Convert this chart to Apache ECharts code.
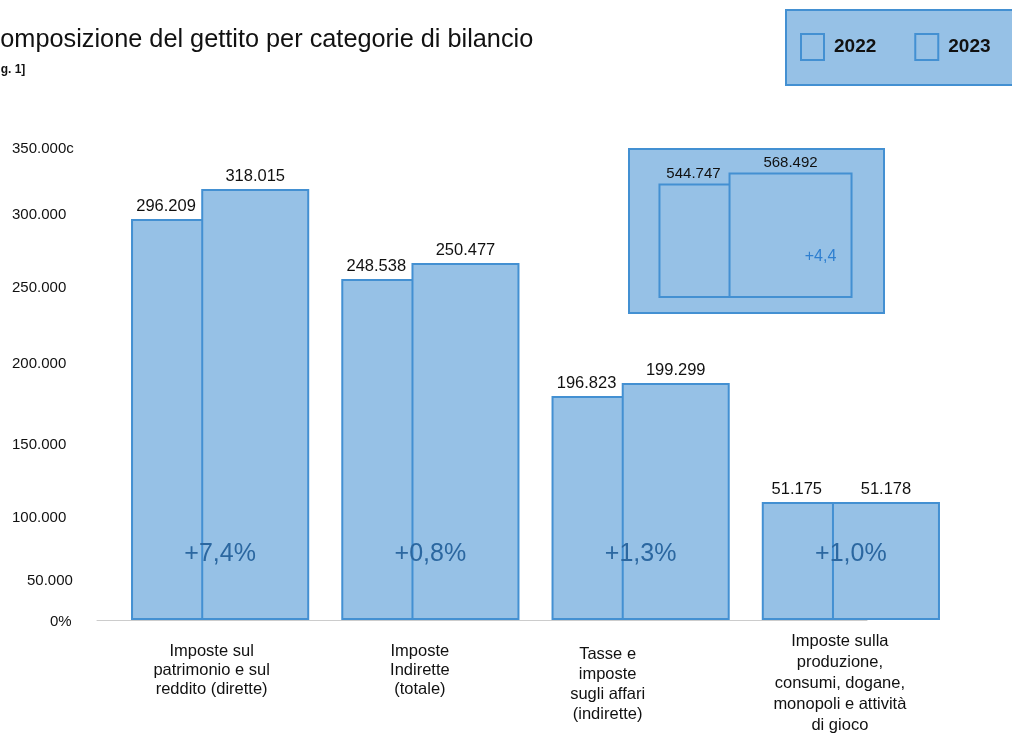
<!DOCTYPE html>
<html><head><meta charset="utf-8">
<script src="https://cdn.jsdelivr.net/npm/echarts@6/dist/echarts.min.js"></script>
<style>html,body{margin:0;padding:0;background:#fff}#c{width:1012px;height:733px}</style>
</head><body><div id="c"></div>
<script>
// ---- data ----
const categories = [
  'Imposte sul\npatrimonio e sul\nreddito (dirette)',
  'Imposte\nIndirette\n(totale)',
  'Tasse e\nimposte\nsugli affari\n(indirette)',
  'Imposte sulla\nproduzione,\nconsumi, dogane,\nmonopoli e attività\ndi gioco'
];
const values2022 = [296209, 248538, 196823, 51175];   // printed values
const values2023 = [318015, 250477, 199299, 51178];
const heights2022 = [296700, 252300, 165800, 87300];  // bar heights as drawn on the picture's scale
const heights2023 = [318900, 264200, 175400, 87300];
const changes = ['+7,4%', '+0,8%', '+1,3%', '+1,0%'];
const insetCategory = ['Totale'];
const insetValues2022 = [544747];
const insetValues2023 = [568492];
const insetChange = '+4,4';
const tickLabels = ['0%', '50.000', '100.000', '150.000', '200.000', '250.000', '300.000', '350.000c'];
const tickValues = [0, 30000, 77000, 131000, 191000, 247000, 301000, 350000];

// ---- style ----
const FONT = "'Liberation Sans', Helvetica, Arial, sans-serif";
const FILL = '#96c1e6';
const EDGE = '#4390d2';
const fmt = v => String(v).replace(/\B(?=(\d{3})+(?!\d))/g, '.');
const tickPad = {'0%': 38, '50.000': 15};
const catStyle = [
  {padding: [11, 17, 0, 0], lineHeight: 19},
  {padding: [11, 21, 0, 0], lineHeight: 19},
  {padding: [13, 66, 0, 0], lineHeight: 20},
  {padding: [0, 22, 0, 0], lineHeight: 21}
];

const chart = echarts.init(document.getElementById('c'));
chart.setOption({
  animation: false,
  textStyle: {fontFamily: FONT},
  title: [
    {text: 'Composizione del gettito per categorie di bilancio', left: -18, top: 28, padding: 0,
     textStyle: {fontSize: 25.3, fontWeight: 'normal', color: '#111', fontFamily: FONT}},
    {text: '[Fig. 1]', left: -14, top: 64, padding: 0,
     textStyle: {fontSize: 12, fontWeight: 'bold', color: '#111', fontFamily: FONT}}
  ],
  legend: {
    data: ['2022', '2023'],
    orient: 'horizontal',
    left: 786, top: 10, width: 400,
    padding: [23, 60, 24, 14],
    backgroundColor: FILL, borderColor: EDGE, borderWidth: 2,
    itemWidth: 23, itemHeight: 26, itemGap: 38,
    icon: 'rect',
    textStyle: {fontSize: 19, fontWeight: 'bold', color: '#111', fontFamily: FONT, padding: [0, 0, 0, 5]}
  },
  graphic: [{
    type: 'rect', left: 628, top: 148, z: 0,
    shape: {width: 255, height: 164},
    style: {fill: FILL, stroke: EDGE, lineWidth: 2}
  }],
  grid: [
    {left: 115, right: 56, top: 147, bottom: 113, outerBoundsMode: 'none', containLabel: false},
    {left: 640, width: 231, top: 150, height: 147, outerBoundsMode: 'none', containLabel: false},
    {left: 97, right: 145, top: 147, bottom: 113, outerBoundsMode: 'none', containLabel: false}
  ],
  xAxis: [
    {type: 'category', gridIndex: 0,
     data: categories.map((c, i) => ({value: c, textStyle: catStyle[i]})),
     axisLine: {show: false},
     axisTick: {show: false},
     axisLabel: {interval: 0, fontSize: 16.5, lineHeight: 20, color: '#111', verticalAlign: 'top', margin: 11, fontFamily: FONT}},
    {type: 'category', gridIndex: 1, data: insetCategory, show: false},
    {type: 'category', gridIndex: 2, data: [''],
     axisLine: {lineStyle: {color: '#cccccc', width: 1}},
     axisTick: {show: false}, axisLabel: {show: false}}
  ],
  yAxis: [
    {type: 'value', gridIndex: 0, min: 0, max: 350000,
     splitLine: {show: false}, axisLine: {show: false}, axisTick: {show: false},
     axisLabel: {
       customValues: tickValues,
       align: 'left', margin: 103, fontSize: 15, color: '#111', fontFamily: FONT,
       padding: [3, 0, 0, 0],
       formatter: v => {
         const t = tickLabels[tickValues.indexOf(v)];
         return tickPad[t] ? '{p' + tickPad[t] + '|' + t + '}' : t;
       },
       rich: {
         p38: {padding: [0, 0, 0, 38], fontSize: 15, color: '#111', fontFamily: FONT},
         p15: {padding: [0, 0, 0, 15], fontSize: 15, color: '#111', fontFamily: FONT}
       }
     }},
    {type: 'value', gridIndex: 1, min: 300000, max: 617300, show: false},
    {type: 'value', gridIndex: 2, show: false}
  ],
  series: [
    {name: '2022', type: 'bar', xAxisIndex: 0, yAxisIndex: 0, data: heights2022,
     barWidth: 108, barGap: '-35%',
     itemStyle: {color: FILL, borderColor: EDGE, borderWidth: 2},
     label: {show: true, position: 'top', distance: 4, offset: [-19, 0], fontSize: 16.5, color: '#111', fontFamily: FONT,
             formatter: p => fmt(values2022[p.dataIndex])}},
    {name: '2023', type: 'bar', xAxisIndex: 0, yAxisIndex: 0, data: heights2023,
     barWidth: 108,
     itemStyle: {color: FILL, borderColor: EDGE, borderWidth: 2},
     label: {show: true, position: 'top', distance: 4, fontSize: 16.5, color: '#111', fontFamily: FONT,
             formatter: p => fmt(values2023[p.dataIndex])}},
    {name: 'variazione', type: 'scatter', xAxisIndex: 0, yAxisIndex: 0, z: 5,
     symbolSize: 0, silent: true, itemStyle: {opacity: 1},
     data: changes.map(c => ({value: 0, name: c})),
     label: {show: true, position: 'inside', offset: [0, -66], fontSize: 25, color: '#2b67a0', fontFamily: FONT,
             formatter: p => p.name}},
    {name: '2022', type: 'bar', xAxisIndex: 1, yAxisIndex: 1, data: insetValues2022, clip: true,
     barWidth: 124, barGap: '-43.5%',
     itemStyle: {color: FILL, borderColor: EDGE, borderWidth: 2},
     label: {show: true, position: 'top', distance: 2, offset: [-27, 0], fontSize: 15, color: '#111', fontFamily: FONT,
             formatter: p => fmt(p.value)}},
    {name: '2023', type: 'bar', xAxisIndex: 1, yAxisIndex: 1, data: insetValues2023, clip: true,
     barWidth: 124,
     itemStyle: {color: FILL, borderColor: EDGE, borderWidth: 2},
     label: {show: true, position: 'top', distance: 2, fontSize: 15, color: '#111', fontFamily: FONT,
             formatter: p => fmt(p.value)}},
    {name: 'variazione totale', type: 'scatter', xAxisIndex: 1, yAxisIndex: 1, z: 5,
     symbolSize: 0, silent: true, itemStyle: {opacity: 1},
     data: [{value: 300000, name: insetChange}],
     label: {show: true, position: 'inside', offset: [65, -40], fontSize: 16, color: '#2e7fd0', fontFamily: FONT,
             formatter: p => p.name}}
  ]
});
</script></body></html>
